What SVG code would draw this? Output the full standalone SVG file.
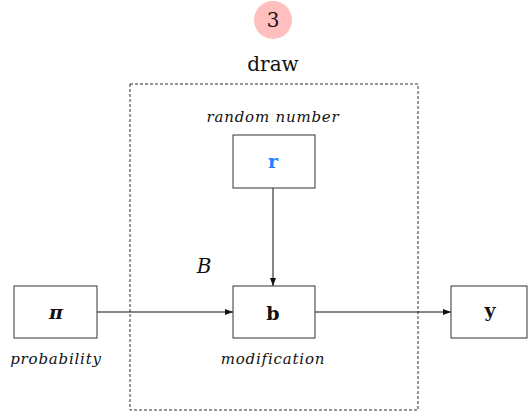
<svg xmlns="http://www.w3.org/2000/svg" width="528" height="412" viewBox="0 0 528 412">
<style>
.box{fill:#fff;stroke:#333;stroke-width:1}
.lbl{font-family:"DejaVu Serif","Liberation Serif",serif;font-style:italic;font-size:15px;letter-spacing:0.8px;fill:#111;text-anchor:middle}
.big{font-family:"DejaVu Serif","Liberation Serif",serif;font-size:20px;fill:#111;text-anchor:middle}
.sym{font-family:"DejaVu Serif","Liberation Serif",serif;font-weight:bold;font-size:19px;fill:#111;text-anchor:middle}
.conn{stroke:#111;stroke-width:1;fill:none;marker-end:url(#ah)}
</style>
<defs>
<marker id="ah" viewBox="0 0 8 6" refX="8" refY="3" markerWidth="8" markerHeight="6" markerUnits="userSpaceOnUse" orient="auto">
<path d="M0,0 L8,3 L0,6 z" fill="#111"/>
</marker>
</defs>
<g id="step">
<circle cx="273" cy="20" r="19" fill="#ffbfbf"/>
<text x="273" y="27" class="big">3</text>
</g>
<g id="draw">
<rect x="130" y="84" width="288" height="326" fill="none" stroke="#333" stroke-width="1" stroke-dasharray="3,2"/>
<text x="273" y="71" class="big">draw</text>
<text x="204" y="273" class="big" style="font-style:italic">B</text>
</g>
<g id="connectors">
<line x1="273" y1="188" x2="273" y2="286" class="conn"/>
<line x1="97" y1="312" x2="233" y2="312" class="conn"/>
<line x1="315" y1="312" x2="451" y2="312" class="conn"/>
</g>
<g id="r">
<text x="273" y="122" class="lbl">random number</text>
<rect x="233" y="135" width="82" height="53" class="box"/>
<text x="273" y="168" class="sym" style="fill:#2080ff">r</text>
</g>
<g id="pi">
<rect x="14" y="286" width="83" height="52" class="box"/>
<text x="56" y="319" class="sym" style="font-style:italic">π</text>
<text x="56" y="364" class="lbl">probability</text>
</g>
<g id="b">
<rect x="233" y="286" width="82" height="52" class="box"/>
<text x="273" y="320" class="sym">b</text>
<text x="273" y="364" class="lbl">modification</text>
</g>
<g id="y">
<rect x="451" y="286" width="76" height="52" class="box"/>
<text x="490" y="317" class="sym">y</text>
</g>
</svg>
